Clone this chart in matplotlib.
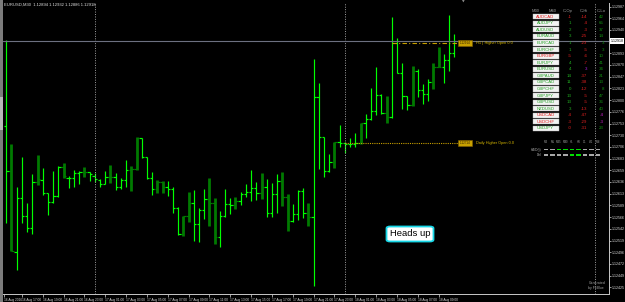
import numpy as np
import matplotlib.pyplot as plt
from matplotlib.patches import Rectangle, FancyBboxPatch

W, H = 625, 302

# EURUSD M30 bars
opens = [1.12748, 1.12658, 1.12496, 1.12604, 1.12568, 1.12544, 1.12636, 1.12640, 1.12614, 1.12596,
         1.12608, 1.12666, 1.12644, 1.12644, 1.12654, 1.12656, 1.12656, 1.12648, 1.12640, 1.12632,
         1.12646, 1.12646, 1.12626, 1.12640, 1.12660, 1.12662, 1.12724, 1.12686, 1.12644, 1.12622,
         1.12636, 1.12626, 1.12622, 1.12584, 1.12532, 1.12568, 1.12594, 1.12552, 1.12580, 1.12602,
         1.12594, 1.12526, 1.12568, 1.12592, 1.12590, 1.12598, 1.12612, 1.12616, 1.12624, 1.12614,
         1.12626, 1.12574, 1.12612, 1.12638, 1.12606, 1.12558, 1.12572, 1.12618, 1.12574, 1.12566,
         1.12806, 1.12726, 1.12658, 1.12676, 1.12716, 1.12714, 1.12712, 1.12712, 1.12714, 1.12754,
         1.12762, 1.12778, 1.12810, 1.12774, 1.12766, 1.12914, 1.12854, 1.12808, 1.12790, 1.12858,
         1.12820, 1.12812, 1.12836, 1.12866, 1.12866, 1.12880, 1.12894]
highs = [1.12920, 1.12712, 1.12626, 1.12686, 1.12594, 1.12652, 1.12690, 1.12664, 1.12614, 1.12658,
         1.12668, 1.12674, 1.12648, 1.12660, 1.12658, 1.12666, 1.12656, 1.12654, 1.12642, 1.12658,
         1.12670, 1.12654, 1.12644, 1.12680, 1.12668, 1.12726, 1.12724, 1.12686, 1.12656, 1.12640,
         1.12638, 1.12638, 1.12626, 1.12586, 1.12568, 1.12616, 1.12620, 1.12584, 1.12622, 1.12644,
         1.12604, 1.12578, 1.12622, 1.12604, 1.12606, 1.12616, 1.12632, 1.12660, 1.12636, 1.12654,
         1.12642, 1.12634, 1.12652, 1.12656, 1.12612, 1.12592, 1.12620, 1.12624, 1.12594, 1.12882,
         1.12834, 1.12726, 1.12692, 1.12716, 1.12750, 1.12716, 1.12724, 1.12734, 1.12754, 1.12772,
         1.12824, 1.12866, 1.12812, 1.12808, 1.12966, 1.12924, 1.12874, 1.12808, 1.12868, 1.12862,
         1.12832, 1.12842, 1.12874, 1.12906, 1.12892, 1.12970, 1.12932]
lows = [1.12554, 1.12498, 1.12460, 1.12554, 1.12536, 1.12532, 1.12630, 1.12610, 1.12570, 1.12594,
        1.12606, 1.12644, 1.12624, 1.12626, 1.12632, 1.12646, 1.12638, 1.12636, 1.12626, 1.12632,
        1.12634, 1.12620, 1.12622, 1.12626, 1.12618, 1.12660, 1.12684, 1.12642, 1.12610, 1.12614,
        1.12614, 1.12608, 1.12574, 1.12530, 1.12528, 1.12556, 1.12518, 1.12516, 1.12562, 1.12548,
        1.12512, 1.12506, 1.12566, 1.12572, 1.12582, 1.12590, 1.12606, 1.12598, 1.12600, 1.12602,
        1.12566, 1.12566, 1.12574, 1.12588, 1.12538, 1.12556, 1.12560, 1.12564, 1.12548, 1.12428,
        1.12662, 1.12646, 1.12656, 1.12664, 1.12706, 1.12694, 1.12706, 1.12706, 1.12712, 1.12724,
        1.12760, 1.12770, 1.12772, 1.12754, 1.12764, 1.12854, 1.12782, 1.12780, 1.12788, 1.12806,
        1.12792, 1.12798, 1.12822, 1.12866, 1.12834, 1.12858, 1.12886]
closes = [1.12658, 1.12498, 1.12604, 1.12568, 1.12544, 1.12636, 1.12642, 1.12614, 1.12596, 1.12608,
          1.12666, 1.12648, 1.12644, 1.12654, 1.12656, 1.12656, 1.12652, 1.12642, 1.12632, 1.12646,
          1.12646, 1.12626, 1.12640, 1.12660, 1.12662, 1.12724, 1.12686, 1.12644, 1.12622, 1.12636,
          1.12626, 1.12622, 1.12584, 1.12532, 1.12568, 1.12594, 1.12552, 1.12580, 1.12602, 1.12594,
          1.12526, 1.12568, 1.12592, 1.12590, 1.12598, 1.12612, 1.12616, 1.12624, 1.12614, 1.12626,
          1.12574, 1.12612, 1.12638, 1.12606, 1.12558, 1.12572, 1.12618, 1.12574, 1.12566, 1.12806,
          1.12726, 1.12658, 1.12676, 1.12716, 1.12714, 1.12712, 1.12712, 1.12714, 1.12754, 1.12762,
          1.12778, 1.12810, 1.12774, 1.12766, 1.12914, 1.12854, 1.12808, 1.12790, 1.12858, 1.12820,
          1.12812, 1.12836, 1.12866, 1.12866, 1.12880, 1.12894, 1.12918]
# bars painted dark green by the indicator
marked = [1, 6, 11, 15, 20, 24, 25, 29, 30, 34, 35, 39, 40, 44, 49, 53, 54, 58, 63, 68, 73, 78, 82, 83]

first_label = "16 Aug 2016"
time_labels = ["16 Aug 17:00", "16 Aug 19:00", "16 Aug 21:00", "16 Aug 23:00", "17 Aug 01:00",
               "17 Aug 03:00", "17 Aug 05:00", "17 Aug 07:00", "17 Aug 09:00", "17 Aug 11:00",
               "17 Aug 13:00", "17 Aug 15:00", "17 Aug 17:00", "17 Aug 19:00", "17 Aug 21:00",
               "17 Aug 23:00", "18 Aug 01:00", "18 Aug 03:00", "18 Aug 05:00", "18 Aug 07:00",
               "18 Aug 09:00"]
day_separators = [17, 65, 113]
bid = 1.12918
daily_open = 1.12714
daily_open_start = 65
h_open = 1.12914
h_open_start = 74

pairs = ["AUDCAD", "AUDJPY", "AUDUSD", "EURAUD", "EURCAD", "EURCHF", "EURGBP", "EURJPY", "EURUSD",
         "GBPAUD", "GBPCAD", "GBPCHF", "GBPJPY", "GBPUSD", "NZDUSD", "USDCAD", "USDCHF", "USDJPY"]
pair_up = [False, True, True, True, True, True, False, True, True,
           True, True, True, True, True, True, False, False, True]
c_op = ["-1", "1", "2", "3", "1", "1", "-5", "4", "4", "14", "11", "0", "13", "13", "3", "-4", "-3", "-0"]
c_hi = ["-14", "-4", "-3", "-25", "-23", "-5", "-6", "-7", "3", "-37", "-38", "-12", "-5", "-5", "-13",
        "-47", "-29", "-31"]
c_lo = ["42", "65", "37", "14", "3", "3", "10", "41", "34", "21", "13", "8", "47", "36", "40", "-4", "-3", "23"]

tf_names = ["M1", "M5", "M15", "M30", "H1", "H4", "D1", "W1", "MN"]
trend_rows = ["H4/D(t)", "Dnl"]
trend_state = [[0, 0, 1, 1, 1, 1, 0, 0, 0],
               [0, 0, 0, 0, 1, 1, 0, 0, 0]]

plt.rcParams['font.family'] = ['Liberation Sans', 'DejaVu Sans']


def fx(x):
    return x / W


def fy(y):
    return 1 - y / H


fig = plt.figure(figsize=(W / 100, H / 100), dpi=100, facecolor="black")
ax = fig.add_axes([fx(3), fy(294), fx(609) - fx(3), fy(3) - fy(294)])
ax.set_facecolor("black")

idx = np.arange(len(opens))
dark = np.isin(idx, marked)
cols = np.where(dark, "#007a00", "#00ff00")
lws = np.where(dark, 2.0, 0.85)
ax.vlines(idx, lows, highs, colors=cols, linewidths=lws)
ax.hlines(opens, idx - 0.45, idx, colors=cols, linewidths=0.85)
ax.hlines(closes, idx, idx + 0.45, colors=cols, linewidths=0.85)

# day separators, bid line, open levels
for s in day_separators:
    ax.axvline(s, color="#a0a0a0", lw=0.7, ls=(0, (1, 1.5)))
ax.axhline(bid, color="#6c7080", lw=0.8)
ax.hlines(daily_open, daily_open_start, len(opens) + 0.3, colors="#c8a000", lw=0.8, linestyles=(0, (1, 1)))
ax.hlines(h_open, h_open_start, len(opens) + 0.3, colors="#c8a000", lw=0.8, linestyles=(0, (4, 2, 1, 2)))

ax.set_xlim(-0.63, 115.7)
ax.set_ylim(1.12412, 1.12994)

# axes look
for s in ["left", "top"]:
    ax.spines[s].set_visible(False)
for s in ["right", "bottom"]:
    ax.spines[s].set_color("#c8c8c8")
    ax.spines[s].set_linewidth(0.7)

yt = 1.12987 - 0.000234 * np.arange(25)
yt = yt[np.abs(yt - bid) > 0.00012]
ax.yaxis.tick_right()
ax.set_yticks(yt)
ax.set_yticklabels([f"{v:.5f}" for v in yt])
ax.tick_params(axis="y", colors="#d8d8d8", labelsize=2.6, length=1.2, width=0.5, pad=0.8)

xt = [3 + 4 * k for k in range(len(time_labels))]
ax.set_xticks([-0.5] + xt)
ax.set_xticklabels([first_label] + time_labels, ha="left")
ax.tick_params(axis="x", colors="#d8d8d8", labelsize=2.35, length=2.5, width=0.5, pad=0.6, direction="out")

# current price label on the price scale
fig.text(fx(610.5), fy(41), f"{bid:.5f}", fontsize=2.6, color="black", va="center", ha="left",
         bbox=dict(boxstyle="square,pad=0.2", fc="white", ec="none"))

# title
fig.text(fx(4), fy(4.5), f"EURUSD,M30  {opens[-1]:.5f} {highs[-1]:.5f} {lows[-1]:.5f} {closes[-1]:.5f}",
         fontsize=3.0, color="#e0e0e0", va="center", ha="left")

# left border strip
fig.add_artist(Rectangle((0, 0), fx(2.5), 1, transform=fig.transFigure, fc="#7c7c7c", ec="none"))
fig.add_artist(Rectangle((0, fy(130)), fx(2.5), fy(97) - fy(130), transform=fig.transFigure,
                         fc="#b8b8b8", ec="none"))

# open level boxes and labels
for lvl, txt in [(h_open, "H1 | Higher Open 0.0"), (daily_open, "Daily Higher Open 0.0")]:
    ydisp = ax.transData.transform((0, lvl))[1]
    ypx = H - ydisp
    fig.add_artist(Rectangle((fx(458), fy(ypx + 2.8)), fx(14), fy(ypx - 2.8) - fy(ypx + 2.8),
                             transform=fig.transFigure, fc="#c8a000", ec="#806000", lw=0.4))
    fig.text(fx(465), fy(ypx), f"{lvl:.5f}", fontsize=2.2, color="#302000", ha="center", va="center")
    fig.text(fx(476), fy(ypx), txt, fontsize=2.8, color="#d8b800", ha="left", va="center")

# currency table
hdr = [("M30", 540), ("M60", 557), ("C-Op", 573), ("C-Hi", 588), ("C-Lo", 606)]
for t, x in hdr:
    fig.text(fx(x), fy(10.7), t, fontsize=3.0, color="#9a9a9a", ha="right", va="center")
for i, p in enumerate(pairs):
    y = 16.7 + 6.57 * i
    fig.add_artist(Rectangle((fx(532.5), fy(y + 2.6)), fx(26), fy(y - 2.6) - fy(y + 2.6),
                             transform=fig.transFigure, fc="#f2f2f2", ec="#b0b0b0", lw=0.3))
    fig.text(fx(545.5), fy(y), p, fontsize=3.1, color="#22a022" if pair_up[i] else "#e01818",
             ha="center", va="center")
    fig.text(fx(571.5), fy(y), c_op[i], fontsize=3.2, ha="right", va="center",
             color="#e02020" if c_op[i].startswith("-") else "#22b022")
    fig.text(fx(587.5), fy(y), c_hi[i], fontsize=3.2, ha="right", va="center",
             color="#e02020" if c_hi[i].startswith("-") else "#b020e0")
    fig.text(fx(604), fy(y), c_lo[i], fontsize=3.2, ha="right", va="center",
             color="#d020d0" if c_lo[i].startswith("-") else "#109010")

# trend panel
for j, t in enumerate(tf_names):
    fig.text(fx(545.8 + 6.5 * j), fy(142.3), t, fontsize=2.0, color="#9a9a9a", ha="center", va="center")
for r, name in enumerate(trend_rows):
    y = 149.7 + 5.3 * r
    fig.text(fx(541.5), fy(y), name, fontsize=2.3, color="#b0b0b0", ha="right", va="center")
    for j, st in enumerate(trend_state[r]):
        x0 = 543.5 + 6.5 * j
        fig.add_artist(Rectangle((fx(x0), fy(y + 0.7)), fx(4.6), fy(y - 0.7) - fy(y + 0.7),
                                 transform=fig.transFigure, fc="#00e000" if st else "#a8a8a8", ec="none"))

# heads up box
fig.add_artist(FancyBboxPatch((fx(386.5), fy(241.5)), fx(47), fy(226.5) - fy(241.5),
                              boxstyle="round,pad=0,rounding_size=0.006", transform=fig.transFigure,
                              fc="white", ec="#18d8e8", lw=1.3))
fig.text(fx(410), fy(234), "Heads up", fontsize=6.8, color="black", ha="center", va="center")

# bottom right note
fig.text(fx(597), fy(283), "Generated", fontsize=2.5, color="#a0a0a0", ha="center", va="center")
fig.text(fx(596), fy(288.5), "by FxBlue", fontsize=2.5, color="#a0a0a0", ha="center", va="center")

# chart shift marker
fig.text(fx(463), fy(1.8), "\u25bc", fontsize=2.5, color="#909090", ha="center", va="center",
         family="DejaVu Sans")

fig.savefig("out.png", dpi=100, facecolor="black")
